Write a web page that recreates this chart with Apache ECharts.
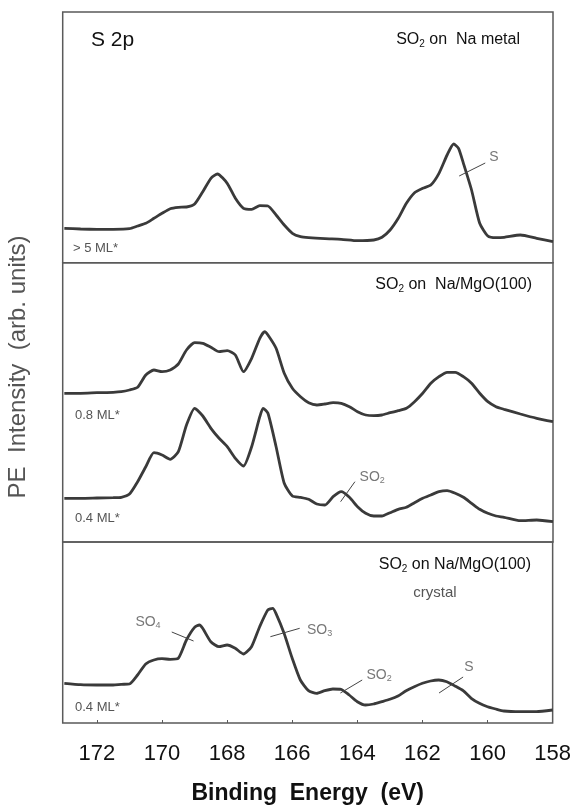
<!DOCTYPE html>
<html>
<head>
<meta charset="utf-8">
<title>S 2p</title>
<script src="https://cdn.jsdelivr.net/npm/echarts@6.0.0/dist/echarts.min.js"></script>
<style>
  html, body { margin: 0; padding: 0; background: #fff; }
  #chart { width: 574px; height: 807px; }
</style>
</head>
<body>
<div id="chart"></div>
<script>
// 结合能 (eV) 与强度 (arb. units)，每个面板一条或两条谱线
const naMetalE = [173, 172.5, 172, 171.5, 171, 170.75, 170.5, 170.25, 170, 169.75, 169.5, 169.25, 169, 168.75, 168.5, 168.3, 168, 167.75, 167.5, 167.25, 167, 166.75, 166.5, 166.25, 166, 165.75, 165.5, 165, 164.5, 164, 163.5, 163.25, 163, 162.75, 162.5, 162.25, 162, 161.75, 161.5, 161.25, 161.05, 160.9, 160.75, 160.5, 160.25, 160, 159.75, 159.5, 159, 158.5, 158];
const naMetalI = [3.44, 3.37, 3.34, 3.34, 3.40, 3.67, 3.94, 4.44, 4.94, 5.40, 5.54, 5.57, 5.87, 7.10, 8.44, 8.87, 7.94, 6.44, 5.44, 5.34, 5.70, 5.67, 4.77, 3.77, 2.94, 2.60, 2.50, 2.40, 2.34, 2.20, 2.27, 2.54, 3.27, 4.44, 5.94, 7.00, 7.44, 7.77, 8.94, 10.77, 11.87, 11.44, 9.94, 7.27, 3.94, 2.67, 2.50, 2.54, 2.77, 2.44, 2.10];

const mgo08E = [173, 172.5, 172, 171.5, 171.25, 171, 170.75, 170.5, 170.25, 170, 169.75, 169.5, 169.25, 169, 168.75, 168.5, 168.25, 168, 167.75, 167.5, 167.25, 167, 166.85, 166.75, 166.5, 166.25, 166, 165.75, 165.5, 165.25, 165, 164.75, 164.5, 164.25, 164, 163.75, 163.5, 163.25, 163, 162.75, 162.5, 162.25, 162, 161.75, 161.5, 161.25, 161, 160.75, 160.5, 160.25, 160, 159.75, 159.5, 159, 158.5, 158];
const mgo08I = [14.87, 14.87, 14.93, 14.97, 15.03, 15.20, 15.47, 16.70, 17.20, 17.03, 17.20, 17.80, 19.20, 19.93, 19.87, 19.47, 19.03, 19.13, 18.70, 17.03, 18.37, 20.37, 21.03, 20.70, 19.37, 16.87, 15.37, 14.53, 13.93, 13.70, 13.80, 13.93, 13.87, 13.53, 13.03, 12.70, 12.63, 12.70, 12.93, 13.13, 13.37, 14.03, 14.87, 15.87, 16.53, 16.97, 16.97, 16.53, 15.87, 14.87, 14.03, 13.53, 13.27, 12.80, 12.37, 12.03];

const mgo04E = [173, 172.5, 172, 171.5, 171.25, 171, 170.75, 170.5, 170.25, 170, 169.75, 169.5, 169.25, 169, 168.75, 168.5, 168.25, 168, 167.75, 167.5, 167.25, 167, 166.9, 166.75, 166.5, 166.25, 166, 165.75, 165.5, 165.25, 165, 164.75, 164.5, 164.25, 164, 163.75, 163.5, 163.25, 163, 162.75, 162.5, 162.25, 162, 161.75, 161.5, 161.25, 161, 160.75, 160.5, 160.25, 160, 159.75, 159.5, 159, 158.5, 158];
const mgo04I = [4.37, 4.37, 4.40, 4.43, 4.47, 4.80, 6.03, 7.53, 8.93, 8.70, 8.27, 9.03, 11.70, 13.37, 12.60, 11.37, 10.37, 9.53, 8.37, 7.60, 9.53, 12.53, 13.37, 12.87, 9.53, 5.87, 4.60, 4.47, 4.27, 3.80, 3.70, 4.53, 5.03, 4.47, 3.53, 2.87, 2.60, 2.60, 2.93, 3.27, 3.47, 3.93, 4.37, 4.70, 5.03, 5.13, 4.87, 4.47, 3.87, 3.27, 2.87, 2.60, 2.47, 2.13, 2.20, 2.03];

const crystalE = [173, 172.5, 172, 171.5, 171.25, 171, 170.75, 170.5, 170.25, 170, 169.75, 169.5, 169.25, 169, 168.85, 168.75, 168.5, 168.25, 168, 167.75, 167.5, 167.25, 167, 166.75, 166.6, 166.5, 166.25, 166, 165.75, 165.5, 165.25, 165, 164.75, 164.5, 164.25, 164, 163.75, 163.5, 163.25, 163, 162.75, 162.5, 162.25, 162, 161.75, 161.5, 161.25, 161, 160.75, 160.5, 160.25, 160, 159.75, 159.5, 159, 158.5, 158];
const crystalI = [3.97, 3.83, 3.80, 3.80, 3.87, 3.90, 4.80, 5.90, 6.30, 6.43, 6.37, 6.47, 8.30, 9.57, 9.80, 9.47, 8.13, 7.63, 7.80, 7.47, 6.90, 7.63, 9.63, 11.30, 11.47, 10.97, 8.97, 6.47, 4.30, 3.23, 2.97, 3.23, 3.40, 3.37, 2.80, 2.13, 1.80, 1.90, 2.13, 2.37, 2.70, 3.23, 3.63, 3.97, 4.20, 4.30, 4.13, 3.70, 3.23, 2.47, 1.97, 1.63, 1.40, 1.20, 1.13, 1.13, 1.30];

// 峰的标注：[文字, 能量, 强度]；引线：[[能量, 强度], [能量, 强度]]
const naMetalNotes = [['S', 159.81, 10.57]];
const naMetalLeaders = [[[160.88, 8.67], [160.08, 9.97]]];
const mgoNotes = [['SO2', 163.55, 6.5]];
const mgoLeaders = [[[164.52, 4.03], [164.08, 6.03]]];
const crystalNotes = [['SO4', 170.43, 10.1], ['SO3', 165.16, 9.3], ['SO2', 163.33, 4.8], ['S', 160.57, 5.6]];
const crystalLeaders = [[[169.70, 9.1], [169.03, 8.2]], [[166.67, 8.63], [165.77, 9.47]], [[164.52, 3.0], [163.85, 4.3]], [[161.49, 3.0], [160.75, 4.6]]];

const xTicks = [172, 170, 168, 166, 164, 162, 160, 158];

const FONT = '"Liberation Sans", Arial, sans-serif';
const lineColor = '#3a3a3a';
const frameColor = '#5a5a5a';

const zip = (xs, ys) => xs.map((x, i) => [x, ys[i]]);
const subText = (t) => t.replace(/(SO)(\d)/, '$1{sub|$2}');

const richSub = {
  sub: { fontSize: 9, padding: [7, 0, 0, 0], fontFamily: FONT }
};

const chart = echarts.init(document.getElementById('chart'), null, { renderer: 'canvas' });

// 三个面板的布局
const panels = [
  { top: 12, height: 250.7 },
  { top: 262.7, height: 279.3 },
  { top: 542, height: 181 }
];

const grids = panels.map(p => ({
  left: 62.7,
  right: 21,
  top: p.top,
  height: p.height,
  show: true,
  borderColor: frameColor,
  borderWidth: 1.5,
  backgroundColor: 'transparent'
}));

const xAxes = panels.map((p, i) => {
  const isBottom = i === panels.length - 1;
  return {
    type: 'value',
    gridIndex: i,
    min: 158,
    max: 173.05,
    interval: 2,
    inverse: true,
    show: isBottom,
    axisLine: { show: false },
    splitLine: { show: false },
    axisTick: { show: isBottom, inside: true, length: 3, lineStyle: { color: frameColor } },
    axisLabel: {
      show: isBottom,
      margin: 20,
      fontSize: 22,
      color: '#111',
      fontFamily: FONT,
      showMaxLabel: false,
      formatter: (v) => (xTicks.includes(v) ? String(v) : '')
    },
    name: isBottom ? 'Binding  Energy  (eV)' : '',
    nameLocation: 'middle',
    nameGap: 59,
    nameTextStyle: { fontSize: 23, fontWeight: 'bold', color: '#111', fontFamily: FONT }
  };
});

const yAxes = panels.map((p, i) => ({
  type: 'value',
  gridIndex: i,
  min: 0,
  max: p.height / 10,
  show: false
}));

const traceSeries = (name, idx, e, v) => ({
  name,
  type: 'line',
  xAxisIndex: idx,
  yAxisIndex: idx,
  data: zip(e, v),
  symbol: 'none',
  smooth: 0.2,
  silent: true,
  lineStyle: { color: lineColor, width: 2.8 }
});

const leaderSeries = (idx, leaders) => leaders.map(seg => ({
  type: 'line',
  xAxisIndex: idx,
  yAxisIndex: idx,
  data: seg,
  symbol: 'none',
  silent: true,
  lineStyle: { color: '#444', width: 1 }
}));

const noteSeries = (idx, notes) => ({
  type: 'scatter',
  xAxisIndex: idx,
  yAxisIndex: idx,
  symbolSize: 0,
  silent: true,
  data: notes.map(n => ({ value: [n[1], n[2]], name: n[0] })),
  label: {
    show: true,
    position: 'inside',
    formatter: (p) => subText(p.name),
    fontSize: 14,
    color: '#555',
    fontFamily: FONT,
    rich: richSub
  }
});

const series = [
  traceSeries('> 5 ML*', 0, naMetalE, naMetalI),
  traceSeries('0.8 ML*', 1, mgo08E, mgo08I),
  traceSeries('0.4 ML*', 1, mgo04E, mgo04I),
  traceSeries('0.4 ML* crystal', 2, crystalE, crystalI),
  ...leaderSeries(0, naMetalLeaders),
  ...leaderSeries(1, mgoLeaders),
  ...leaderSeries(2, crystalLeaders),
  noteSeries(0, naMetalNotes),
  noteSeries(1, mgoNotes),
  noteSeries(2, crystalNotes)
];

const textEl = (x, y, text, opts) => ({
  type: 'text',
  x,
  y,
  silent: true,
  style: Object.assign({
    text,
    fontFamily: FONT,
    fontSize: 14,
    fill: '#111',
    textAlign: 'left',
    textVerticalAlign: 'middle',
    rich: { sub: { fontSize: 10, padding: [8, 0, 0, 0], fontFamily: FONT } }
  }, opts || {})
});

const graphic = [
  // 纵轴标题
  {
    type: 'text',
    x: 18,
    y: 367,
    rotation: Math.PI / 2,
    silent: true,
    style: {
      text: '{pe|PE}  Intensity  (arb. units)',
      fontFamily: FONT,
      fontSize: 24,
      fill: '#555',
      textAlign: 'center',
      textVerticalAlign: 'middle',
      rich: { pe: { fontSize: 24, color: '#111', fontFamily: FONT } }
    }
  },
  textEl(91, 40, 'S 2p', { fontSize: 21 }),
  textEl(520, 40, 'SO{sub|2} on  Na metal', { fontSize: 16, textAlign: 'right' }),
  textEl(73, 248, '> 5 ML*', { fontSize: 13, fill: '#555' }),
  textEl(532, 285, 'SO{sub|2} on  Na/MgO(100)', { fontSize: 16, textAlign: 'right' }),
  textEl(75, 415, '0.8 ML*', { fontSize: 13, fill: '#555' }),
  textEl(75, 518, '0.4 ML*', { fontSize: 13, fill: '#555' }),
  textEl(531, 565, 'SO{sub|2} on Na/MgO(100)', { fontSize: 16, textAlign: 'right' }),
  textEl(435, 593, 'crystal', { fontSize: 15, fill: '#555', textAlign: 'center' }),
  textEl(75, 707, '0.4 ML*', { fontSize: 13, fill: '#555' })
];

chart.setOption({
  animation: false,
  backgroundColor: '#fff',
  grid: grids,
  xAxis: xAxes,
  yAxis: yAxes,
  series,
  graphic
});

window.addEventListener('resize', () => chart.resize());
</script>
</body>
</html>
